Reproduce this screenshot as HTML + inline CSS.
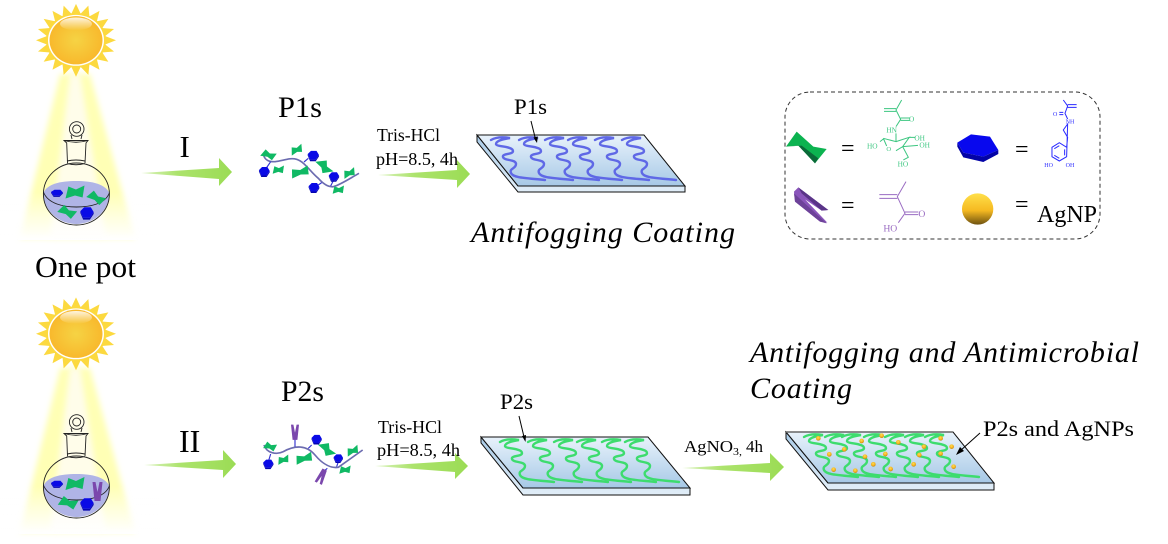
<!DOCTYPE html>
<html><head><meta charset="utf-8"><style>
html,body{margin:0;padding:0;background:#fff}
svg{display:block;fill:#000;filter:blur(.3px)}
text{font-family:"Liberation Serif",serif}
</style></head><body>
<svg width="1168" height="544" viewBox="0 0 1168 544" xmlns="http://www.w3.org/2000/svg">
<defs>
<radialGradient id="sunG" cx=".5" cy=".5" r=".55"><stop offset="0" stop-color="#f6d344"/><stop offset="1" stop-color="#f8b62a"/></radialGradient>
<linearGradient id="hl" x1="0" y1="0" x2="0" y2="1"><stop offset="0" stop-color="#fff" stop-opacity=".85"/><stop offset="1" stop-color="#fff" stop-opacity="0"/></linearGradient>
<linearGradient id="fade" x1="0" y1="0" x2="0" y2="1"><stop offset="0" stop-color="#fff" stop-opacity="0"/><stop offset=".5" stop-color="#fff" stop-opacity=".55"/><stop offset="1" stop-color="#fff"/></linearGradient>
<linearGradient id="arr" x1="0" y1="0" x2="1" y2="0"><stop offset="0" stop-color="#dcf3c0"/><stop offset=".4" stop-color="#ace36c"/><stop offset="1" stop-color="#9bdc55"/></linearGradient>
<linearGradient id="plate" x1="0" y1="0" x2="0" y2="1"><stop offset="0" stop-color="#e8f2fb"/><stop offset="1" stop-color="#a6c8e6"/></linearGradient>
<linearGradient id="side" x1="0" y1="0" x2="0" y2="1"><stop offset="0" stop-color="#a9cbe8"/><stop offset="1" stop-color="#e2eef8"/></linearGradient>
<linearGradient id="ball" x1="0" y1="0" x2="0" y2="1"><stop offset="0" stop-color="#ffe04a"/><stop offset=".55" stop-color="#f5b921"/><stop offset="1" stop-color="#6e5210"/></linearGradient>
<radialGradient id="dot" cx=".45" cy=".35" r=".7"><stop offset="0" stop-color="#ffdf50"/><stop offset=".7" stop-color="#f0a818"/><stop offset="1" stop-color="#96700f"/></radialGradient>
<filter id="b2" x="-30%" y="-20%" width="160%" height="140%"><feGaussianBlur stdDeviation="3"/></filter>

<g id="sun" transform="scale(1,.91)">
 <g fill="#fcd93f">
 <path d="M-6,-26 L0,-40 L6,-26Z"/><path d="M-6,-26 L0,-40 L6,-26Z" transform="rotate(18)"/><path d="M-6,-26 L0,-40 L6,-26Z" transform="rotate(36)"/><path d="M-6,-26 L0,-40 L6,-26Z" transform="rotate(54)"/><path d="M-6,-26 L0,-40 L6,-26Z" transform="rotate(72)"/>
 <path d="M-6,-26 L0,-40 L6,-26Z" transform="rotate(90)"/><path d="M-6,-26 L0,-40 L6,-26Z" transform="rotate(108)"/><path d="M-6,-26 L0,-40 L6,-26Z" transform="rotate(126)"/><path d="M-6,-26 L0,-40 L6,-26Z" transform="rotate(144)"/><path d="M-6,-26 L0,-40 L6,-26Z" transform="rotate(162)"/>
 <path d="M-6,-26 L0,-40 L6,-26Z" transform="rotate(180)"/><path d="M-6,-26 L0,-40 L6,-26Z" transform="rotate(198)"/><path d="M-6,-26 L0,-40 L6,-26Z" transform="rotate(216)"/><path d="M-6,-26 L0,-40 L6,-26Z" transform="rotate(234)"/><path d="M-6,-26 L0,-40 L6,-26Z" transform="rotate(252)"/>
 <path d="M-6,-26 L0,-40 L6,-26Z" transform="rotate(270)"/><path d="M-6,-26 L0,-40 L6,-26Z" transform="rotate(288)"/><path d="M-6,-26 L0,-40 L6,-26Z" transform="rotate(306)"/><path d="M-6,-26 L0,-40 L6,-26Z" transform="rotate(324)"/><path d="M-6,-26 L0,-40 L6,-26Z" transform="rotate(342)"/>
 <circle r="30"/></g>
 <circle r="28" fill="#fff"/>
 <circle r="26.500" fill="url(#sunG)"/>
 <ellipse cx="0" cy="-18" rx="16" ry="7" fill="url(#hl)"/>
</g>

<g id="beam">
 <path d="M60,74 L90,74 L135,238 L20,238Z" fill="#ffffb5" filter="url(#b2)"/>
 <path d="M70,74 L80,74 L106,238 L50,238Z" fill="#fffdea" filter="url(#b2)"/>
 <rect x="0" y="192" width="160" height="48" fill="url(#fade)"/>
</g>

<g id="flask" fill="none" stroke="#222" stroke-width=".9">
 <path d="M43.400,193 A33,31 0 0 0 109.400,193 C105,184 92,181 76.400,181 C60,181 47,184 43.400,193Z" fill="#b0b4e6" stroke="none"/>
 <ellipse cx="76.400" cy="194" rx="33" ry="31"/>
 <path d="M43.400,192 C48,204 64,207 76.400,207 C90,207 105,204 109.400,193"/>
 <path d="M67.500,163 L66.700,143 L64,140.500 L88,140.500 L86,143 L85,163"/>
 <path d="M67,163.500 Q76,166 85,163.500 M67,161 Q76,159 85,161"/>
 <path d="M64,140.500 Q76,144 88,140.500"/>
 <path d="M72,139 L71,135 M81,139 L82,135"/>
 <circle cx="76.700" cy="129" r="7.300"/>
 <circle cx="76.700" cy="129" r="4"/>
</g>

<path id="tile" d="M-10,6 L-7,-6 L1,-3 L10,-7 L8,5 L0,3Z" fill="#10b964"/>
<g id="hex"><path d="M-7,-2 L-3,-6 L4,-6 L7,-1 L3,5 L-4,5Z" fill="#0a0ae6"/><path d="M-7,-2 L-4,5 L3,5 L7,-1 L7,1 L3,7 L-4,7 L-7,0Z" fill="#0505b0"/></g>
<path id="clip" d="M-5,-10 L-2,-10 L0,0 L2,-10 L5,-10 L3,9 L-3,9Z" fill="#7b48ad"/>

<path id="strand" d="M0,0 C5,-3 13,-3 19,-2 C12,-1 5,1 5,4 C5,7 22,6 22,11 C22,15 11,13 12,17 C13,21 25,19 25,24 C25,29 18,28 20,33 C22,38 35,38 54,40" fill="none"/>
</defs>

<!-- Row I -->
<use href="#beam"/>
<use href="#sun" x="76" y="40.300"/>
<use href="#flask"/>
<use href="#tile" transform="translate(75,192.500) scale(.95,1)"/>
<use href="#tile" transform="translate(96,198) rotate(35) scale(.85,.8)"/>
<use href="#tile" transform="translate(67,212) rotate(30) scale(.85,.8)"/>
<use href="#hex" transform="translate(57,193) scale(.85,.55)"/>
<use href="#hex" transform="translate(87,213) scale(.95)"/>

<path d="M141,173 L219,168 L219,158 L232,172 L219,186 L219,179Z" fill="url(#arr)"/>
<text x="179.500" y="157" font-size="31">I</text>
<text x="35" y="277" font-size="31" textLength="101" lengthAdjust="spacingAndGlyphs">One pot</text>

<text x="278" y="117" font-size="30" textLength="44" lengthAdjust="spacingAndGlyphs">P1s</text>
<g transform="translate(240,90) scale(.3333)">
 <path d="M70,190 C72,212 90,216 105,215 C130,212 150,202 170,208 C195,216 210,245 235,265 C250,282 265,292 280,290 C300,285 330,265 357,250" fill="none" stroke="#6c6cb0" stroke-width="5"/>
 <path d="M205,205 L192,216 M75,240 L92,215 M228,290 L245,278 M282,268 L272,288" stroke="#3535d0" stroke-width="3.500" fill="none"/>
 <use href="#tile" transform="translate(85,195) scale(2.100,2) rotate(25)"/>
 <use href="#tile" transform="translate(115,240) scale(1.700,1.900)"/>
 <use href="#tile" transform="translate(170,180) scale(1.800,2) rotate(-15)"/>
 <use href="#tile" transform="translate(180,247) scale(2.900,2.200) rotate(-15)"/>
 <use href="#tile" transform="translate(252,230) scale(2.800,2.100) rotate(68)"/>
 <use href="#tile" transform="translate(328,250) scale(1.800,2) rotate(-15)"/>
 <use href="#tile" transform="translate(295,300) scale(1.700,1.900)"/>
 <use href="#hex" transform="translate(73,245) scale(2.300)"/>
 <use href="#hex" transform="translate(220,197) scale(2.400)"/>
 <use href="#hex" transform="translate(282,260) scale(2.200)"/>
 <use href="#hex" transform="translate(222,293) scale(2.300)"/>
</g>

<text x="377" y="141" font-size="17.500" textLength="63" lengthAdjust="spacingAndGlyphs">Tris-HCl</text>
<path d="M378,175 L457,170 L457,160 L470,174 L457,188 L457,180Z" fill="url(#arr)"/>
<text x="376" y="165" font-size="17.500" textLength="82" lengthAdjust="spacingAndGlyphs">pH=8.5, 4h</text>

<!-- Plate 1 -->
<path d="M477,135 L477,142 L518,192 L685,192 L685,186 L518,186Z" fill="url(#side)" stroke="#111" stroke-width="1"/>
<path d="M477,135 L644,135 L685,186 L518,186Z" fill="url(#plate)" stroke="#111" stroke-width="1"/>
<g stroke="#5f68e6" stroke-width="2.400" stroke-linecap="round">
 <use href="#strand" x="491" y="140"/><use href="#strand" x="519" y="140"/><use href="#strand" x="545" y="140"/><use href="#strand" x="568" y="140"/><use href="#strand" x="595" y="140"/><use href="#strand" x="622" y="140"/>
</g>
<text x="514" y="114" font-size="22.500" textLength="33" lengthAdjust="spacingAndGlyphs">P1s</text>
<path d="M531,121 L536,141" stroke="#000" stroke-width="1"/><path d="M533.500,137.500 L537,143 L537.800,136.500Z" fill="#000"/>
<text x="471" y="242" font-size="30" font-style="italic" textLength="264" lengthAdjust="spacing">Antifogging Coating</text>

<!-- Legend -->
<rect x="785" y="92" width="315" height="147" rx="25" ry="25" fill="none" stroke="#333" stroke-width="1" stroke-dasharray="4 3"/>
<g transform="translate(770,80) scale(.3333)">
 <path d="M48,200 L80,155 L130,200 L170,207 L135,250 L85,197Z" fill="#0cb350"/>
 <path d="M48,200 L85,197 L135,250 L145,235 L95,197Z" fill="#0a6a38"/>
 <path d="M562,188 L603,163 L660,170 L685,210 L640,230 L580,218Z" fill="#0808ee"/>
 <path d="M562,188 L580,218 L640,230 L685,210 L685,222 L640,246 L580,232 L562,200Z" fill="#0303a6"/>
 <path d="M72,335 L85,322 L175,390 L155,392 L105,358 L172,428 L150,425 L75,365Z" fill="#8a55bb"/>
 <path d="M85,322 L175,390 L155,392 L95,340Z" fill="#5a3488"/>
 <path d="M72,340 L170,430 L150,425 L75,365Z" fill="#6d4299"/>
 <circle cx="623" cy="387" r="47" fill="url(#ball)"/>

 <g fill="none" stroke="#3cc680" stroke-width="3">
  <path d="M395,60 L378,90 L392,118 L378,140 M342,86 L378,86 M342,94 L378,94 M392,114 L420,114 M392,121 L420,121 M378,160 L378,185 L340,175 M378,185 L418,172 L398,200 L378,212 M340,175 L350,198 M418,172 L436,172 M398,200 L444,196 M398,200 L415,232 L400,240 M330,185 L340,177"/>
 </g>
 <g fill="#3cc680" font-size="22"><text x="417" y="125">O</text><text x="349" y="158">HN</text><text x="433" y="181">OH</text><text x="448" y="203">OH</text><text x="291" y="206">HO</text><text x="349" y="213" font-size="20">O</text><text x="383" y="259">HO</text></g>

 <g fill="none" stroke="#2a2aff" stroke-width="3">
  <path d="M880,60 L893,78 L885,100 L893,117 M893,74 L920,74 M893,82 L920,82 M880,97 L868,97 M880,104 L868,104 M893,132 L880,150 L893,172 L890,202 L868,188 L846,202 L846,230 L868,243 L890,230 Z M853,206 L868,197 M853,226 L868,235 M884,208 L884,226"/>
 </g>
 <g fill="#2a2aff" font-size="18"><text x="849" y="108">O</text><text x="887" y="131">NH</text><text x="823" y="261">HO</text><text x="887" y="261">OH</text></g>

 <g fill="none" stroke="#9a6cc2" stroke-width="3">
  <path d="M408,305 L382,350 L405,400 L385,428 M328,344 L382,344 M328,355 L382,355 M405,396 L445,396 M405,404 L445,404"/>
 </g>
 <g fill="#9a6cc2" font-size="29"><text x="445" y="411">O</text><text x="340" y="455">HO</text></g>
</g>
<text x="841" y="156" font-size="24">=</text><text x="1015" y="157" font-size="24">=</text>
<text x="841" y="213" font-size="24">=</text><text x="1015" y="212" font-size="24">=</text>
<text x="1037" y="222" font-size="24" textLength="60" lengthAdjust="spacingAndGlyphs">AgNP</text>

<!-- Row II -->
<g transform="translate(0,294)"><use href="#beam"/></g>
<use href="#sun" x="76" y="333.800"/>
<g transform="translate(0,293)"><use href="#flask"/>
 <use href="#tile" transform="translate(75,191) scale(.95,1)"/>
 <use href="#tile" transform="translate(68,210) rotate(20) scale(.9,.85)"/>
 <use href="#hex" transform="translate(57,191) scale(.85,.55)"/>
 <use href="#hex" transform="translate(87,211) scale(.95)"/>
 <use href="#clip" transform="translate(97.500,199)"/>
</g>

<path d="M144,465 L223,460 L223,450 L236,464 L223,478 L223,470Z" fill="url(#arr)"/>
<text x="179" y="452" font-size="32">II</text>

<text x="281" y="401" font-size="30" textLength="43" lengthAdjust="spacingAndGlyphs">P2s</text>
<g transform="translate(240,370) scale(.3333)">
 <path d="M72,225 C80,250 110,255 130,245 C165,225 200,225 225,255 C250,285 275,295 295,292 L368,240" fill="none" stroke="#6c6cb0" stroke-width="5"/>
 <path d="M215,225 L205,235 M85,275 L92,252 M295,275 L290,290 M165,205 L165,230 M262,295 L250,305" stroke="#3535d0" stroke-width="3.500" fill="none"/>
 <use href="#tile" transform="translate(90,230) scale(1.800,1.900) rotate(20)"/>
 <use href="#tile" transform="translate(130,270) scale(1.700,1.900) rotate(-10)"/>
 <use href="#tile" transform="translate(192,266) scale(2.700,2.200) rotate(-15)"/>
 <use href="#tile" transform="translate(260,238) scale(2.700,2.100) rotate(65)"/>
 <use href="#tile" transform="translate(338,243) scale(1.800,2) rotate(-15)"/>
 <use href="#tile" transform="translate(315,300) scale(1.700,1.900)"/>
 <use href="#hex" transform="translate(85,282) scale(2.200)"/>
 <use href="#hex" transform="translate(230,208) scale(2.200)"/>
 <use href="#hex" transform="translate(295,265) scale(2)"/>
 <use href="#clip" transform="translate(165,188) scale(2.400)"/>
 <use href="#clip" transform="translate(245,318) scale(2.400) rotate(205)"/>
</g>

<text x="378" y="433" font-size="17.500" textLength="64" lengthAdjust="spacingAndGlyphs">Tris-HCl</text>
<path d="M375,466 L455,461 L455,453 L468,466 L455,479 L455,472Z" fill="url(#arr)"/>
<text x="377" y="456" font-size="17.500" textLength="83" lengthAdjust="spacingAndGlyphs">pH=8.5, 4h</text>

<!-- Plate 2 -->
<path d="M481,437 L481,443 L523,495 L690,495 L690,488 L523,488Z" fill="url(#side)" stroke="#111" stroke-width="1"/>
<path d="M481,437 L648,437 L690,488 L523,488Z" fill="url(#plate)" stroke="#111" stroke-width="1"/>
<g stroke="#3ddc6e" stroke-width="2.400" stroke-linecap="round">
 <use href="#strand" x="500" y="442"/><use href="#strand" x="528" y="442"/><use href="#strand" x="554" y="442"/><use href="#strand" x="577" y="442"/><use href="#strand" x="602" y="442"/><use href="#strand" x="625" y="442"/>
</g>
<text x="500" y="409" font-size="22.500" textLength="33" lengthAdjust="spacingAndGlyphs">P2s</text>
<path d="M519,416 L524.500,439" stroke="#000" stroke-width="1"/><path d="M522,436 L525.500,442 L526,435Z" fill="#000"/>

<text x="684" y="452" font-size="17" textLength="58" lengthAdjust="spacingAndGlyphs">AgNO<tspan font-size="11" dy="3">3,</tspan></text>
<text x="746" y="452" font-size="17">4h</text>
<path d="M682,468 L770,463 L770,453 L784,467 L770,481 L770,473Z" fill="url(#arr)"/>

<!-- Plate 3 -->
<path d="M786,432 L786,439 L828,490 L994,490 L994,483 L828,483Z" fill="url(#side)" stroke="#111" stroke-width="1"/>
<path d="M786,432 L953,432 L994,483 L828,483Z" fill="url(#plate)" stroke="#111" stroke-width="1"/>
<path d="M786,432 L953,432" stroke="#666" stroke-width="1.500"/>
<g stroke="#3ddc6e" stroke-width="2.400" stroke-linecap="round">
 <use href="#strand" x="804" y="437"/><use href="#strand" x="825" y="437"/><use href="#strand" x="842" y="437"/><use href="#strand" x="864" y="437"/><use href="#strand" x="885" y="437"/><use href="#strand" x="905" y="437"/><use href="#strand" x="925" y="437"/>
</g>
<g transform="translate(660,400) scale(.3333)" fill="url(#dot)">
 <circle cx="475" cy="115" r="7"/><circle cx="605" cy="123" r="7"/><circle cx="665" cy="107" r="7"/><circle cx="715" cy="127" r="7"/><circle cx="842" cy="115" r="7"/><circle cx="875" cy="140" r="7"/><circle cx="792" cy="140" r="7"/><circle cx="553" cy="148" r="7"/><circle cx="508" cy="163" r="7"/><circle cx="615" cy="170" r="7"/><circle cx="676" cy="162" r="7"/><circle cx="778" cy="165" r="7"/><circle cx="842" cy="161" r="7"/><circle cx="640" cy="193" r="7"/><circle cx="761" cy="193" r="7"/><circle cx="881" cy="200" r="7"/><circle cx="521" cy="209" r="7"/><circle cx="586" cy="212" r="7"/><circle cx="692" cy="207" r="7"/>
</g>
<path d="M980,433 L960,451" stroke="#000" stroke-width="1"/><path d="M956,455 L964,451 L960,447Z" fill="#000"/>
<text x="983" y="436" font-size="22" textLength="151" lengthAdjust="spacingAndGlyphs">P2s and AgNPs</text>

<text x="750" y="362" font-size="30" font-style="italic" textLength="389" lengthAdjust="spacing">Antifogging and Antimicrobial</text>
<text x="750" y="398" font-size="30" font-style="italic" textLength="102" lengthAdjust="spacing">Coating</text>
</svg>
</body></html>
